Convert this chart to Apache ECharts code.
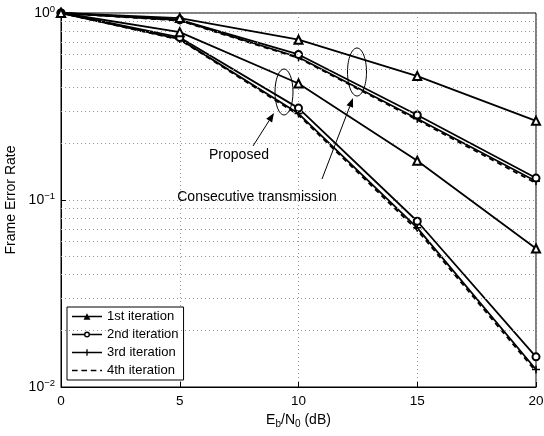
<!DOCTYPE html>
<html><head><meta charset="utf-8">
<script src="https://cdn.jsdelivr.net/npm/echarts@6/dist/echarts.min.js"></script>
<style>html,body{margin:0;padding:0;background:#fff}#c{width:544px;height:436px}</style>
</head><body><div id="c"></div>
<script>
var snr = [0, 5, 10, 15, 20];
var consIter1 = [1, 0.94, 0.72, 0.46, 0.265];
var consIter2 = [1, 0.92, 0.60, 0.285, 0.131];
var consIter3 = [1, 0.915, 0.58, 0.272, 0.126];
var consIter4 = [1, 0.91, 0.575, 0.268, 0.123];
var propIter1 = [1, 0.79, 0.42, 0.162, 0.055];
var propIter2 = [1, 0.74, 0.31, 0.077, 0.0145];
var propIter3 = [1, 0.725, 0.29, 0.071, 0.0124];
var propIter4 = [1, 0.72, 0.285, 0.069, 0.0121];
var minorGrid = [0.02,0.03,0.04,0.05,0.06,0.07,0.08,0.09,0.2,0.3,0.4,0.5,0.6,0.7,0.8,0.9];
var legendNames = ['1st iteration','2nd iteration','3rd iteration','4th iteration'];
var FONT = 'Liberation Sans';

function pairs(v){ return snr.map(function(x,i){ return [x, v[i]]; }); }
var plusPath = 'path://M0,5L10,5M5,0L5,10';
var styles = [
  {symbol:'emptyTriangle', size:8},
  {symbol:'emptyCircle', size:7},
  {symbol:plusPath, size:8},
  {symbol:'none', size:0}
];
function mk(name, vals, k){
  return {
    name: name, type: 'line', data: pairs(vals),
    symbol: styles[k].symbol, symbolSize: styles[k].size, showSymbol: k !== 3,
    lineStyle: {color:'#000', width:1.8, type: k===3 ? [5,4] : 'solid'},
    itemStyle: {color:'#000', borderColor:'#000', borderWidth:1.5},
    z: 5 - k, animation: false
  };
}
var series = [
  mk(legendNames[0], consIter1, 0), mk(legendNames[1], consIter2, 1),
  mk(legendNames[2], consIter3, 2), mk(legendNames[3], consIter4, 3),
  mk(legendNames[0], propIter1, 0), mk(legendNames[1], propIter2, 1),
  mk(legendNames[2], propIter3, 2), mk(legendNames[3], propIter4, 3)
];
series[0].markLine = {
  silent: true, symbol: 'none', label: {show:false}, animation:false,
  lineStyle: {color:'#999', type:[1,3], width:1},
  data: minorGrid.map(function(v){ return {yAxis: v}; })
};

var triIcon = 'path://M0,5.2H32V6.8H0Z M12.3,9.6L16,2.6L19.7,9.6Z';
var circIcon = 'path://M0,5.2H13V6.8H0Z M19,5.2H32V6.8H19Z M16,2.8A3.2,3.2 0 1,1 15.99,2.8Z M16,4.3A1.7,1.7 0 1,0 16.01,4.3Z';
var plusIcon = 'path://M0,5.2H32V6.8H0Z M15.3,2.6H16.7V9.4H15.3Z';
var dashIcon = 'path://M0,5.2H6V6.8H0Z M10,5.2H16V6.8H10Z M20,5.2H26V6.8H20Z M30,5.2H32V6.8H30Z';
var noBorder = {borderWidth: 0, color:'#000'};

var chart = echarts.init(document.getElementById('c'), null, {renderer:'canvas'});
chart.setOption({
  animation: false,
  textStyle: {fontFamily: FONT},
  grid: {left: 61, right: 8, top: 13, bottom: 49, show: true, borderColor:'#000', borderWidth:1, containLabel:false, outerBoundsMode:'none'},
  legend: {
    orient:'vertical', left: 67, top: 307, itemGap: 5, itemWidth: 30, itemHeight: 12,
    padding: [3,5,3,5], borderColor:'#000', borderWidth:1, backgroundColor:'#fff',
    textStyle: {fontFamily: FONT, fontSize: 13, color:'#000'},
    data: [
      {name: legendNames[0], icon: triIcon, itemStyle: noBorder},
      {name: legendNames[1], icon: circIcon, itemStyle: noBorder},
      {name: legendNames[2], icon: plusIcon, itemStyle: noBorder},
      {name: legendNames[3], icon: dashIcon, itemStyle: noBorder}
    ]
  },
  xAxis: {
    type:'value', min:0, max:20, interval:5,
    name: '{n|E}{s|b}{n|/N}{s|0}{n| (dB)}', nameLocation:'middle', nameGap: 20,
    nameTextStyle: {rich: {n:{fontSize:14, fontFamily:FONT, color:'#000'}, s:{fontSize:10, fontFamily:FONT, color:'#000', verticalAlign:'bottom', padding:[8,0,0,0]}}},
    axisLine: {lineStyle:{color:'#000'}},
    axisTick: {inside:true, length:5, lineStyle:{color:'#000'}},
    axisLabel: {fontSize:13.5, color:'#000', fontFamily:FONT, margin:7},
    splitLine: {show:true, lineStyle:{color:'#999', type:[1,3]}}
  },
  yAxis: {
    type:'log', logBase:10, min:0.01, max:1,
    name: 'Frame Error Rate', nameLocation:'middle', nameGap: 37,
    nameTextStyle: {fontSize:14, color:'#000', fontFamily:FONT},
    axisLine: {lineStyle:{color:'#000'}},
    axisTick: {inside:true, length:5, lineStyle:{color:'#000'}},
    axisLabel: {
      color:'#000', margin: 6,
      formatter: function(v){ var e = Math.round(Math.log10(v)); return '{b|10}{s|' + (e<0?'\u2212'+(-e):e) + '}'; },
      rich: {b:{fontSize:14, fontFamily:FONT, color:'#000', lineHeight:17}, s:{fontSize:9.5, fontFamily:FONT, color:'#000', verticalAlign:'top', padding:[0,0,6,0]}}
    },
    splitLine: {show:true, lineStyle:{color:'#999', type:[1,3]}}
  },
  series: series
});

function arrow(x1,y1,x2,y2){
  var a = Math.atan2(y2-y1, x2-x1), L=9, W=3.5;
  var bx = x2 - L*Math.cos(a), by = y2 - L*Math.sin(a);
  var px = -Math.sin(a)*W, py = Math.cos(a)*W;
  return [
    {type:'line', shape:{x1:x1,y1:y1,x2:bx,y2:by}, style:{stroke:'#000', lineWidth:1}, z:20},
    {type:'polygon', shape:{points:[[x2,y2],[bx+px,by+py],[bx-px,by-py]]}, style:{fill:'#000'}, z:20}
  ];
}
var g = [
  {type:'ellipse', shape:{cx:284, cy:92, rx:9, ry:23}, style:{fill:'none', stroke:'#000', lineWidth:1}, z:20},
  {type:'ellipse', shape:{cx:357, cy:72, rx:9.5, ry:24}, style:{fill:'none', stroke:'#000', lineWidth:1}, z:20},
  {type:'text', x:239, y:155, style:{text:'Proposed', font:'14px "Liberation Sans"', fill:'#000', textAlign:'center', textVerticalAlign:'middle'}, z:20},
  {type:'text', x:257, y:197, style:{text:'Consecutive transmission', font:'14px "Liberation Sans"', fill:'#000', textAlign:'center', textVerticalAlign:'middle'}, z:20}
].concat(arrow(253,146,274,113)).concat(arrow(322,179,353,98));
chart.setOption({graphic: g});
</script>
</body></html>
